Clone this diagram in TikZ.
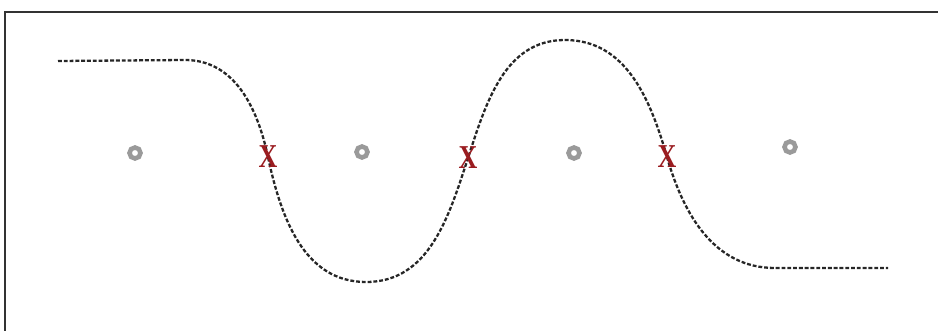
\documentclass[tikz,border=0pt]{standalone}
\usepackage{fontspec}
\setmainfont{Liberation Serif}
\usepackage{tikz}
\usetikzlibrary{positioning}
\definecolor{crossred}{HTML}{9A1C20}
\definecolor{ringgray}{HTML}{9A9A9A}

\begin{document}
\begin{tikzpicture}[x=0.02cm, y=-0.02cm,
  ring/.style={circle, draw=ringgray, line width=2.6pt, minimum size=0.22cm, inner sep=0pt},
  cross/.style={text=crossred, font=\fontsize{19}{19}\selectfont\bfseries, xscale=0.78, inner sep=0pt},
  wave/.style={black!85, line width=1.3pt, dash pattern=on 2.2pt off 1.1pt}]
  \useasboundingbox (0,0) rectangle (938,331);
  % frame (top and left edges only)
  \draw[black!80, line width=1pt] (5,331) -- (5,12) -- (938,12);
  % crossing points
  \coordinate (c1) at (268,157);
  \coordinate (c2) at (468,158);
  \coordinate (c3) at (667,157);
  % path points
  \coordinate (start) at (58,61);
  \coordinate (shelf) at (185,60);
  \coordinate (trough) at (366,282);
  \coordinate (crest) at (565,40);
  \coordinate (foot) at (775,268);
  \coordinate (finish) at (888,268);
  % the wave
  \draw[wave] (start) -- (shelf)
    to[out=0, in=102] (c1)
    to[out=-78, in=180] (trough)
    to[out=0, in=-108] (c2)
    to[out=72, in=180] (crest)
    to[out=0, in=106] (c3)
    to[out=-74, in=180] (foot)
    -- (finish);
  % rings
  \node[ring] (r1) at (135,153) {};
  \node[ring] (r2) at (362,152) {};
  \node[ring] (r3) at (574,153) {};
  \node[ring] (r4) at (790,147) {};
  % crosses
  \node[cross] (x1) at (c1) {X};
  \node[cross] (x2) at (c2) {X};
  \node[cross] (x3) at (c3) {X};
\end{tikzpicture}
\end{document}
